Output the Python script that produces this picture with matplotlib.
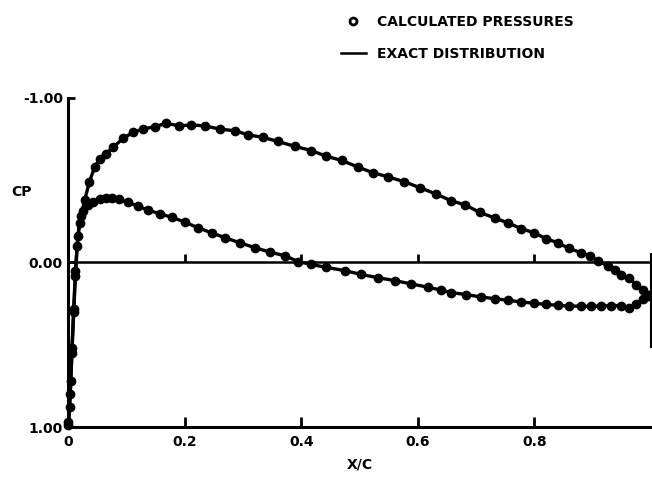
import matplotlib
matplotlib.use("Agg")
import matplotlib.pyplot as plt
from matplotlib.lines import Line2D

# ---- data ----
x_upper = [0.000, 0.002, 0.004, 0.006, 0.009, 0.012, 0.016, 0.021, 0.028, 0.036,
           0.045, 0.054, 0.064, 0.077, 0.094, 0.111, 0.128, 0.148, 0.168, 0.190,
           0.211, 0.234, 0.260, 0.286, 0.309, 0.334, 0.360, 0.389, 0.417, 0.443,
           0.469, 0.497, 0.523, 0.549, 0.577, 0.603, 0.632, 0.657, 0.681, 0.706,
           0.732, 0.755, 0.778, 0.800, 0.820, 0.840, 0.860, 0.880, 0.895, 0.909,
           0.926, 0.938, 0.949, 0.963, 0.975, 0.986, 0.995]
cp_upper = [0.99, 0.88, 0.72, 0.52, 0.28, 0.05, -0.16, -0.28, -0.38, -0.49,
            -0.58, -0.63, -0.66, -0.70, -0.755, -0.79, -0.81, -0.825, -0.845, -0.83,
            -0.835, -0.83, -0.81, -0.80, -0.775, -0.76, -0.735, -0.705, -0.68, -0.645,
            -0.62, -0.58, -0.545, -0.52, -0.49, -0.455, -0.415, -0.375, -0.35, -0.305,
            -0.27, -0.24, -0.205, -0.18, -0.145, -0.12, -0.085, -0.06, -0.04, -0.01,
            0.02, 0.045, 0.075, 0.095, 0.135, 0.165, 0.20]

x_lower = [0.000, 0.003, 0.006, 0.009, 0.012, 0.015, 0.019, 0.025, 0.033, 0.043,
           0.054, 0.064, 0.075, 0.086, 0.103, 0.120, 0.137, 0.157, 0.177, 0.200,
           0.223, 0.246, 0.269, 0.294, 0.320, 0.346, 0.372, 0.395, 0.417, 0.443,
           0.475, 0.503, 0.532, 0.560, 0.588, 0.617, 0.640, 0.657, 0.683, 0.709,
           0.732, 0.755, 0.778, 0.800, 0.820, 0.840, 0.860, 0.880, 0.897, 0.915,
           0.932, 0.949, 0.963, 0.975, 0.986, 0.995]
cp_lower = [0.97, 0.80, 0.55, 0.30, 0.08, -0.10, -0.24, -0.31, -0.35, -0.37,
            -0.385, -0.39, -0.39, -0.384, -0.365, -0.34, -0.318, -0.295, -0.275, -0.245,
            -0.21, -0.18, -0.15, -0.12, -0.09, -0.063, -0.04, -0.005, 0.012, 0.03,
            0.05, 0.073, 0.093, 0.11, 0.13, 0.15, 0.168, 0.183, 0.195, 0.21,
            0.22, 0.23, 0.24, 0.248, 0.255, 0.26, 0.265, 0.266, 0.266, 0.265,
            0.262, 0.262, 0.275, 0.25, 0.225, 0.205]

x_ticks = [0, 0.2, 0.4, 0.6, 0.8]
x_tick_labels = ["0", "0.2", "0.4", "0.6", "0.8"]
y_ticks = [-1.0, 0.0, 1.0]
y_tick_labels = ["-1.00", "0.00", "1.00"]

# ---- figure ----
plt.rcParams['font.family'] = ['DejaVu Sans']
plt.rcParams['font.weight'] = 'bold'

fig = plt.figure(figsize=(6.52, 4.82), dpi=100)
ax = fig.add_axes([0.105, 0.114, 0.893, 0.683])

lw = 2.4
ms = 6.0
for xs, cs in ((x_upper, cp_upper), (x_lower, cp_lower)):
    ax.plot(xs, cs, color='black', lw=lw, clip_on=False, zorder=3)
    ax.plot(xs, cs, 'o', color='black', ms=ms, clip_on=False, zorder=4)

ax.set_xlim(0, 1.0)
ax.set_ylim(1.0, -1.0)

# zero line with ticks
ax.axhline(0, color='black', lw=1.8, zorder=2)
ax.vlines(x_ticks[1:], 0, -0.05, color='black', lw=2.0, zorder=2)
ax.vlines(1.0, -0.06, 0.52, color='black', lw=1.5, clip_on=False)

for s in ('top', 'right'):
    ax.spines[s].set_visible(False)
for s in ('left', 'bottom'):
    ax.spines[s].set_linewidth(2.2)

ax.set_xticks(x_ticks)
ax.set_xticklabels(x_tick_labels, fontsize=10, fontweight='bold')
ax.set_yticks(y_ticks)
ax.set_yticklabels(y_tick_labels, fontsize=10, fontweight='bold')
ax.tick_params(axis='x', direction='in', length=7, width=2, pad=6)
ax.tick_params(axis='y', direction='in', length=5, width=2, pad=4)

ax.set_xlabel("X/C", fontsize=10, fontweight='bold', labelpad=6)
fig.text(22 / 652, 1 - 192 / 482, "CP", fontsize=10, fontweight='bold',
         ha='center', va='center')

handles = [Line2D([], [], marker='o', color='black', markerfacecolor='white',
                  markeredgewidth=2, ms=5, lw=0),
           Line2D([], [], color='black', lw=1.8)]
fig.legend(handles, ["CALCULATED PRESSURES", "EXACT DISTRIBUTION"],
           loc='upper left', bbox_to_anchor=(328 / 652, 1 - 2 / 482),
           frameon=False, handlelength=1.8, handletextpad=0.8,
           labelspacing=1.3, prop={'size': 10, 'weight': 'bold'})

fig.savefig("out.png", dpi=100)
